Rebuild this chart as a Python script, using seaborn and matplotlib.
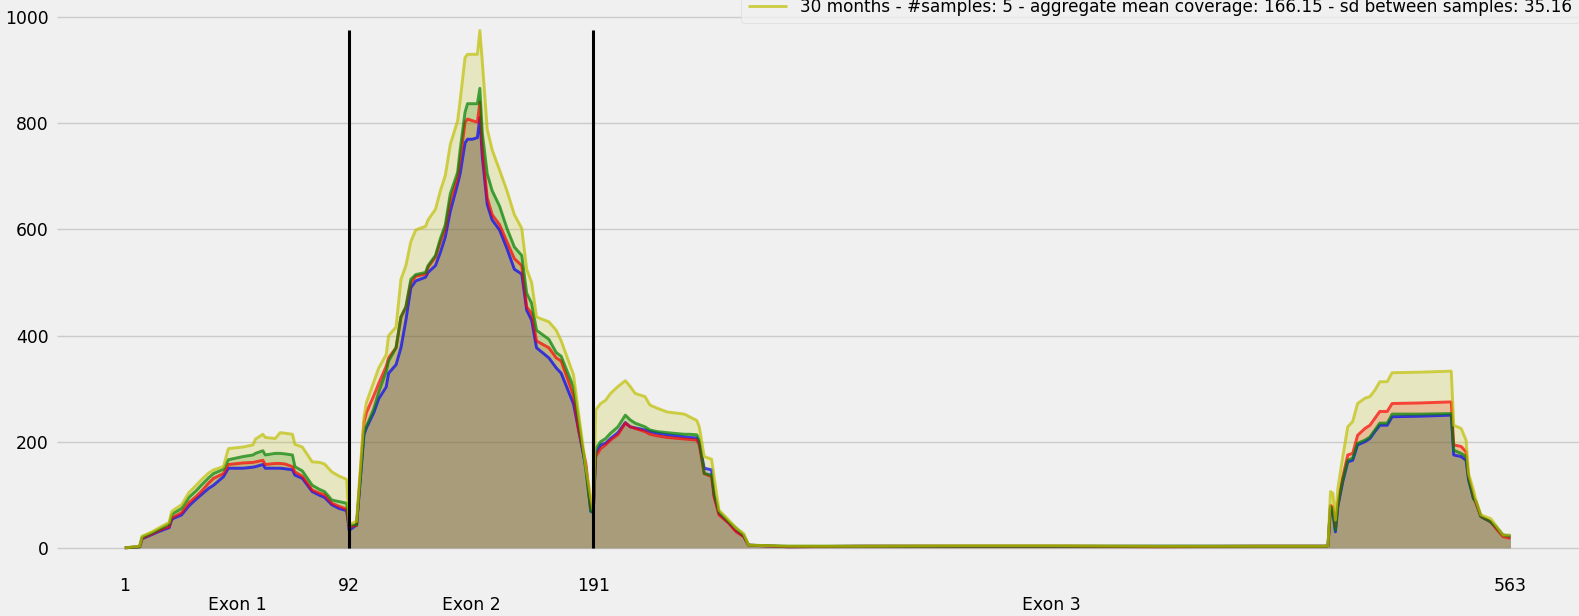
import numpy as np
import pandas as pd
import matplotlib
matplotlib.use("Agg")
import matplotlib.pyplot as plt
import seaborn as sns

# exon boundaries / tick positions
boundaries = [1, 92, 191, 563]
exon_names = ["Exon 1", "Exon 2", "Exon 3"]

positions = [
    1, 7, 8, 12, 15, 19, 20, 21, 24, 27, 30, 32, 35, 37, 41, 43, 49, 53, 54, 57,
    58, 62, 64, 66, 69, 70, 73, 77, 80, 82, 85, 88, 91,
    92, 95, 98, 99, 102, 104, 107, 108, 111, 113, 115, 117, 119, 123, 124, 127, 129,
    131, 133, 136, 137, 139, 140, 142, 144, 145, 146, 148, 150, 153, 156, 159, 162, 164,
    166, 168, 173, 176, 178, 183, 185, 188, 190, 191,
    192, 194, 196, 198, 201, 204, 206, 208, 212, 214, 217, 221, 228, 230, 233, 234, 236,
    239, 240, 242, 246, 249, 252, 254, 270, 300, 340, 380, 420, 460, 488,
    489, 490, 491, 492, 493, 495, 497, 499, 501, 504, 506, 508, 510, 513, 515, 526, 539,
    540, 543, 545, 546, 548, 549, 551, 555, 557, 560, 563,
]

cov_blue = [
    0, 2, 17, 25, 31, 38, 53, 56, 62, 79, 92, 100, 112, 118, 134, 150, 150, 152, 153, 157,
    150, 150, 150, 149, 147, 137, 131, 106, 99, 95, 81, 74, 70,
    33, 43, 213, 226, 255, 281, 303, 329, 345, 377, 429, 490, 503, 510, 519, 532, 557,
    586, 634, 686, 705, 763, 770, 770, 773, 811, 737, 647, 618, 599, 564, 525, 516, 448,
    429, 377, 358, 339, 329, 271, 223, 152, 69, 66,
    178, 194, 197, 206, 217, 236, 228, 226, 222, 219, 216, 213, 209, 208, 207, 198, 150,
    147, 99, 65, 47, 32, 22, 5, 2, 3, 3, 3, 3, 3, 3,
    4, 78, 65, 30, 78, 125, 162, 165, 194, 200, 206, 219, 231, 231, 247, 248, 250,
    175, 172, 165, 128, 93, 87, 59, 49, 40, 24, 22,
]

cov_red = [
    0, 2, 18, 26, 33, 40, 56, 59, 66, 85, 97, 106, 122, 131, 140, 157, 160, 161, 162, 165,
    157, 159, 159, 158, 153, 143, 135, 109, 103, 100, 84, 78, 73,
    40, 42, 236, 255, 287, 310, 342, 358, 377, 435, 454, 500, 512, 516, 529, 548, 577,
    602, 654, 699, 731, 802, 808, 805, 802, 840, 750, 660, 628, 609, 577, 545, 532, 454,
    442, 390, 377, 358, 352, 287, 223, 159, 75, 70,
    172, 187, 194, 203, 213, 235, 228, 225, 219, 214, 211, 208, 205, 204, 203, 194, 140,
    134, 96, 62, 46, 30, 21, 5, 2, 3, 3, 3, 2, 3, 3,
    4, 80, 77, 40, 84, 134, 175, 178, 212, 225, 231, 244, 257, 257, 272, 273, 275,
    194, 191, 181, 134, 96, 84, 59, 49, 37, 21, 18,
]

cov_green = [
    0, 2, 20, 28, 35, 45, 62, 66, 74, 95, 108, 118, 132, 140, 148, 166, 172, 175, 178, 183,
    175, 178, 178, 177, 175, 153, 145, 118, 110, 106, 90, 87, 84,
    44, 43, 217, 229, 262, 294, 332, 352, 377, 435, 454, 506, 515, 519, 532, 551, 583,
    609, 667, 708, 750, 821, 837, 837, 837, 866, 782, 705, 673, 644, 602, 567, 551, 480,
    461, 410, 393, 368, 361, 303, 242, 146, 69, 68,
    187, 200, 206, 216, 228, 250, 241, 235, 228, 222, 219, 217, 214, 214, 213, 203, 140,
    137, 103, 68, 49, 37, 24, 5, 3, 3, 3, 3, 3, 3, 3,
    4, 78, 71, 33, 81, 128, 165, 169, 197, 203, 209, 222, 235, 235, 252, 252, 253,
    184, 178, 172, 131, 93, 87, 59, 49, 40, 24, 22,
]

cov_yellow = [
    0, 3, 22, 30, 38, 48, 68, 72, 81, 104, 118, 128, 141, 147, 153, 187, 190, 194, 205, 214,
    208, 206, 217, 216, 214, 195, 190, 162, 161, 158, 143, 135, 129,
    44, 50, 246, 274, 313, 339, 364, 400, 416, 506, 532, 577, 599, 606, 618, 638, 673,
    702, 760, 805, 843, 924, 930, 930, 930, 975, 917, 789, 750, 712, 673, 628, 602, 525,
    500, 435, 426, 410, 390, 326, 255, 152, 94, 71,
    260, 272, 278, 291, 304, 315, 304, 291, 285, 269, 263, 256, 252, 247, 240, 228, 172,
    167, 134, 71, 52, 37, 27, 5, 3, 3, 4, 4, 3, 3, 3,
    4, 106, 103, 52, 112, 172, 228, 238, 272, 282, 285, 297, 313, 313, 330, 331, 333,
    231, 225, 203, 140, 109, 90, 62, 55, 43, 24, 24,
]

legend_label = "30 months - #samples: 5 - aggregate mean coverage: 166.15 - sd between samples: 35.16"

df = pd.DataFrame({
    "position": positions,
    "b": cov_blue,
    "r": cov_red,
    "g": cov_green,
    "y": cov_yellow,
})

plt.style.use("fivethirtyeight")
plt.rcParams["font.family"] = ["DejaVu Sans"]
fs = 12.4

fig = plt.figure(figsize=(15.79, 6.16), dpi=100)
fig.patch.set_facecolor("#f0f0f0")
ax = fig.add_axes([57 / 1579, 44 / 616, 1 - 57 / 1579, 1 - 44 / 616])
ax.set_facecolor("#f0f0f0")

for col in ["b", "r", "g", "y"]:
    lab = legend_label if col == "y" else None
    sns.lineplot(data=df, x="position", y=col, color=col, lw=2.1, alpha=0.7,
                 ax=ax, label=lab, legend=False)
    ax.fill_between(df["position"], 0, df[col], color=col, alpha=0.2, lw=0)

# exon boundary lines
ax.vlines(boundaries[1:3], 0, max(cov_yellow), colors="black", lw=2.2)

ax.set_xlim(-26.5, 590.8)
ax.set_ylim(-45.6, 1032.4)
ax.set_yticks([0, 200, 400, 600, 800, 1000])
ax.set_xticks(boundaries)
ax.set_xticklabels([str(b) for b in boundaries])
mids = [(boundaries[i] + boundaries[i + 1]) / 2 for i in range(3)]
ax.set_xticks(mids, minor=True)
ax.set_xticklabels(exon_names, minor=True)
ax.tick_params(axis="x", which="major", labelsize=fs, pad=3.5, length=0)
ax.tick_params(axis="x", which="minor", labelsize=fs, pad=17.5, length=0)
ax.tick_params(axis="y", labelsize=fs, pad=6, length=0)
ax.set_xlabel("")
ax.set_ylabel("")
ax.xaxis.grid(False)
ax.yaxis.grid(True, color="#cbcbcb", lw=1)
for s in ax.spines.values():
    s.set_visible(False)

ax.legend(loc="lower right", bbox_to_anchor=(1.0, 0.963), bbox_transform=fig.transFigure,
          borderaxespad=0, fontsize=12.2, frameon=True, facecolor="#f0f0f0",
          edgecolor="#d8d8d8", handlelength=2.3)

fig.savefig("out.png", dpi=100, facecolor=fig.get_facecolor())
